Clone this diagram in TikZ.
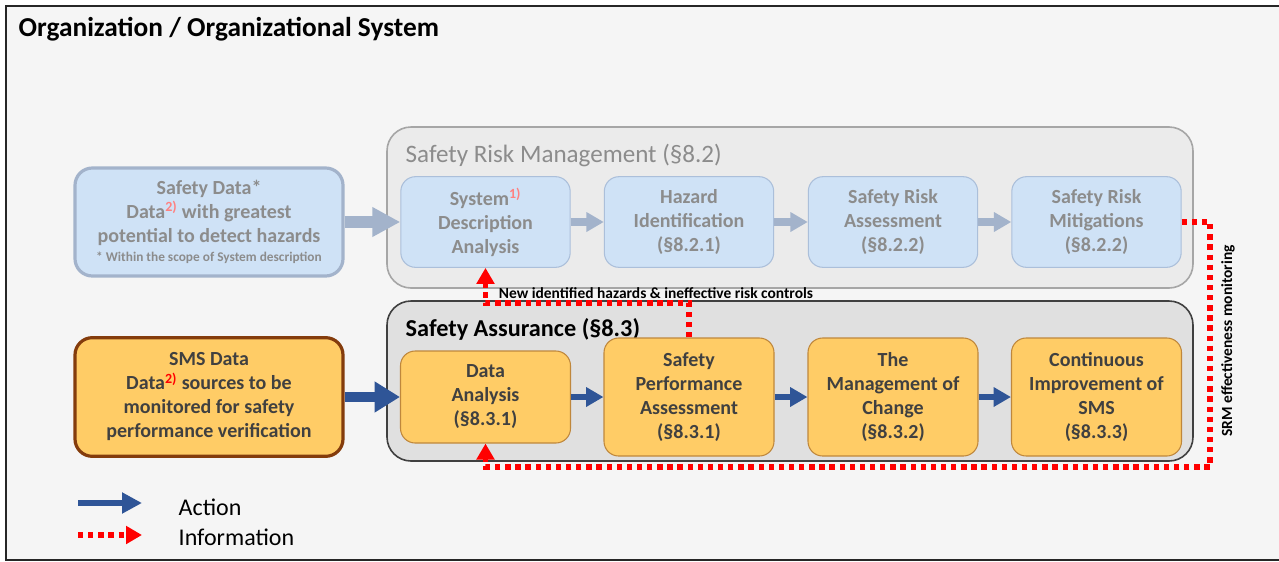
\documentclass[tikz,border=0pt]{standalone}
\usepackage{fontspec}
\setmainfont{Carlito}
\usetikzlibrary{arrows.meta, positioning}

\definecolor{pagebg}{HTML}{F5F5F5}
\definecolor{frameline}{HTML}{262626}
\definecolor{srmfill}{HTML}{EBEBEB}
\definecolor{srmline}{HTML}{A6A6A6}
\definecolor{safill}{HTML}{E0E0E0}
\definecolor{saline}{HTML}{404040}
\definecolor{bluefill}{HTML}{CFE2F6}
\definecolor{blueline}{HTML}{ABBFDA}
\definecolor{greytext}{HTML}{8C8C8C}
\definecolor{orangefill}{HTML}{FFCC66}
\definecolor{orangeline}{HTML}{BF873C}
\definecolor{brownline}{HTML}{843C0C}
\definecolor{darktext}{HTML}{404040}
\definecolor{lightarrow}{HTML}{A3B3CB}
\definecolor{actionblue}{HTML}{2F5597}
\definecolor{supred}{HTML}{FF8080}

\tikzset{
  boxfont/.style={font=\fontsize{15}{18}\selectfont\bfseries},
  srmbox/.style={draw=blueline, fill=bluefill, rounded corners=11pt, line width=0.8pt,
    minimum width=127pt, minimum height=68pt, align=center, text=greytext, boxfont},
  sabox/.style={draw=orangeline, fill=orangefill, rounded corners=11pt, line width=0.8pt,
    minimum width=127.5pt, minimum height=88.5pt, align=center, text=darktext, boxfont},
  srmarrow/.style={-{Triangle[length=13pt,width=14pt]}, line width=6pt, draw=lightarrow},
  actarrow/.style={-{Triangle[length=13pt,width=14pt]}, line width=5pt, draw=actionblue},
  infoarrow/.style={-{Triangle[length=12pt,width=13pt]}, line width=4.2pt, draw=red,
    dash pattern=on 4pt off 3.6pt},
  smalllabel/.style={font=\fontsize{11.6}{13}\selectfont\bfseries, text=black, inner sep=0pt},
}

\begin{document}
\begin{tikzpicture}[x=0.75pt, y=-0.75pt]
  \clip (0,0) rectangle (1279,561);
  \draw[fill=pagebg, draw=frameline, line width=1.5pt] (6,6) rectangle (1300,560);
  \node[anchor=west, font=\fontsize{20.5}{24}\selectfont\bfseries] (orgtitle) at (14,29) {Organization / Organizational System};

  % containers
  \node[draw=srmline, fill=srmfill, line width=1.2pt, rounded corners=18pt, minimum width=604.5pt, minimum height=120.75pt] (srm) at (790,207.5) {};
  \node[anchor=west, font=\fontsize{18.8}{22}\selectfont, text=greytext] (srmtitle) at (401,155) {Safety Risk Management (§8.2)};
  \node[draw=saline, fill=safill, line width=1.2pt, rounded corners=18pt, minimum width=604.5pt, minimum height=120pt] (sa) at (790,381) {};
  \node[anchor=west, font=\fontsize{18.2}{22}\selectfont\bfseries] (satitle) at (401,329) {Safety Assurance (§8.3)};

  % data sources
  \node[draw=lightarrow, fill=bluefill, line width=2.4pt, rounded corners=13pt, minimum width=201pt, minimum height=81pt, align=center, text=greytext, boxfont] (safetydata) at (209,222)
    {Safety Data*\\ Data\textsuperscript{\textcolor{supred}{2)}} with greatest\\ potential to detect hazards\\[-4pt] {\fontsize{10}{12}\selectfont * Within the scope of System description}};
  \node[draw=brownline, fill=orangefill, line width=2.4pt, rounded corners=13pt, minimum width=201pt, minimum height=89pt, align=center, text=darktext, boxfont] (smsdata) at (209,397)
    {SMS Data\\ Data\textsuperscript{\textcolor{red}{2)}} sources to be\\ monitored for safety\\ performance verification};

  % safety risk management
  \node[srmbox] (sysdesc) at (485.5,222) {System\textsuperscript{\textcolor{supred}{1)}}\\ Description\\ Analysis};
  \node[srmbox] (hazard) at (689,222) {Hazard\\ Identification\\ (§8.2.1)};
  \node[srmbox] (riskassess) at (893,222) {Safety Risk\\ Assessment\\ (§8.2.2)};
  \node[srmbox] (mitigation) at (1096.5,222) {Safety Risk\\ Mitigations\\ (§8.2.2)};

  % safety assurance
  \node[sabox, minimum height=69pt] (analysis) at (485.5,397) {Data\\ Analysis\\ (§8.3.1)};
  \node[sabox] (performance) at (689,397) {Safety\\ Performance\\ Assessment\\ (§8.3.1)};
  \node[sabox] (change) at (893,397) {The\\ Management of\\ Change\\ (§8.3.2)};
  \node[sabox] (improvement) at (1096.5,397) {Continuous\\ Improvement of\\ SMS\\ (§8.3.3)};

  \draw[srmarrow, line width=9pt, -{Triangle[length=21pt,width=21pt]}] (safetydata) -- (sysdesc);
  \draw[srmarrow] (sysdesc) -- (hazard);
  \draw[srmarrow] (hazard) -- (riskassess);
  \draw[srmarrow] (riskassess) -- (mitigation);

  \draw[actarrow, line width=7pt, -{Triangle[length=19pt,width=22pt]}] (smsdata) -- (analysis);
  \draw[actarrow] (analysis) -- (performance);
  \draw[actarrow] (performance) -- (change);
  \draw[actarrow] (change) -- (improvement);

  % information flows
  \coordinate (hazardturn) at (689,303);
  \coordinate (monitorturn) at (1210,467);
  \draw[infoarrow] (performance.north) -- (hazardturn) -| (sysdesc.south);
  \draw[infoarrow] (mitigation.east) -| (monitorturn) -| (analysis.south);
  \node[smalllabel] (hazardlabel) at (656,293) {New identified hazards \& ineffective risk controls};
  \node[smalllabel, rotate=90] (monitorlabel) at (1228,341) {SRM effectiveness monitoring};

  % legend
  \coordinate (actstart) at (78,503);
  \coordinate (actend) at (142,503);
  \coordinate (infostart) at (78,535);
  \coordinate (infoend) at (142,535);
  \draw[actarrow, line width=4.5pt, -{Triangle[length=15pt,width=15pt]}] (actstart) -- (actend);
  \draw[infoarrow] (infostart) -- (infoend);
  \node[anchor=west, font=\fontsize{18}{22}\selectfont] (acttext) at (174,507) {Action};
  \node[anchor=west, font=\fontsize{18}{22}\selectfont] (infotext) at (174,537) {Information};
\end{tikzpicture}
\end{document}
